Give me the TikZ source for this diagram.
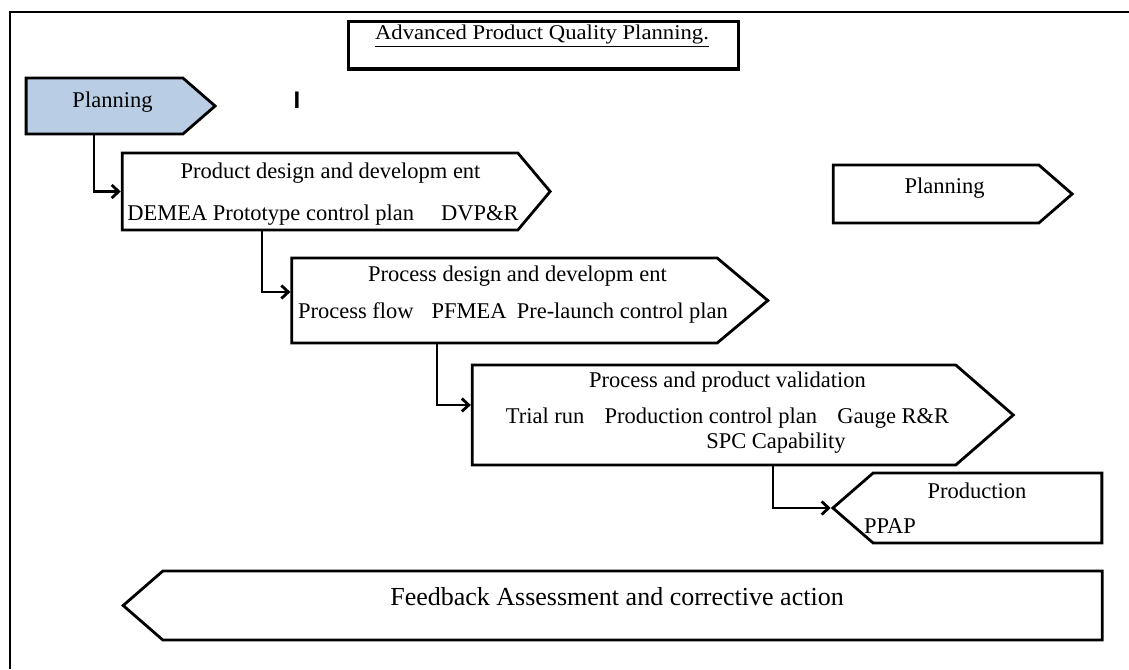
\documentclass[tikz,border=0pt]{standalone}
\usepackage{fontspec}
\setmainfont{Liberation Serif}
\newfontfamily\marksans{Liberation Sans}
\usepackage{xcolor}
\usepackage{tikz}
\usetikzlibrary{arrows.meta, positioning, shapes.symbols}

\definecolor{planblue}{RGB}{185,205,229}

\begin{document}
\begin{tikzpicture}[x=1pt, y=-1pt, >={Straight Barb[length=7pt, width=13pt]}]
		\tikzstyle{stage} = [draw=black, line width=2.8pt, signal, signal to=east, inner sep=0pt]
		\tikzstyle{back} = [stage, signal to=west]
		\tikzstyle{txt} = [anchor=base, inner sep=0pt, font=\fontsize{22.5}{27}\selectfont]
		\tikzstyle{link} = [->, line width=2.8pt]
		
		\useasboundingbox (0,0) rectangle (1129,669);
		\draw[line width=2.4pt] (1129,12) -- (10,12) -- (10,669);
		
		% title
		\node[draw=black, line width=3pt, minimum width=390pt, minimum height=47pt] at (543,45.5) (tbox) {};
		\node[txt] at (542,40) (title) {\scalebox{1.08}[1]{\fontsize{21}{25}\selectfont\underline{Advanced Product Quality Planning.}}};
		\node[anchor=base, inner sep=0pt, font=\marksans\bfseries\fontsize{24}{28}\selectfont] at (297,108) (mark) {I};
		
		% stages
		\node[stage, fill=planblue, minimum width=189pt, minimum height=56pt, signal pointer angle=82] at (104.5,106) (plan) {};
		\node[stage, minimum width=428pt, minimum height=77pt, signal pointer angle=100] at (320,191.5) (pd) {};
		\node[stage, minimum width=476pt, minimum height=85pt, signal pointer angle=80] at (504.5,300.5) (dd) {};
		\node[stage, minimum width=541pt, minimum height=100pt, signal pointer angle=82] at (714,415) (val) {};
		\node[back, minimum width=269pt, minimum height=70pt, signal pointer angle=82] at (987.5,508) (prod) {};
		\node[back, minimum width=979pt, minimum height=69pt, signal pointer angle=82] at (632.5,605.5) (fb) {};
		\node[stage, minimum width=239pt, minimum height=58pt, signal pointer angle=82] at (936,194) (plan2) {};
		
		% texts
		\node[txt] at (112.5,107) (plan-t) {Planning};
		\node[txt] at (330.5,178) (pd-t1) {Product design and developm ent};
		\node[txt] at (323,220) (pd-t2) {DEMEA Prototype control plan\hspace{1.2em}DVP\&R};
		\node[txt] at (517.5,281) (dd-t1) {Process design and developm ent};
		\node[txt] at (513,318) (dd-t2) {Process flow\hspace{0.8em}PFMEA\hspace{0.45em}Pre-launch control plan};
		\node[txt] at (727.5,387) (val-t1) {Process and product validation};
		\node[txt] at (727.5,423) (val-t2) {Trial run\hspace{0.9em}Production control plan\hspace{0.9em}Gauge R\&R};
		\node[txt] at (776,448) (val-t3) {SPC Capability};
		\node[txt] at (977,498) (prod-t1) {Production};
		\node[txt] at (890,533) (prod-t2) {PPAP};
		\node[txt, font=\fontsize{26}{31}\selectfont] at (617,605) (fb-t) {Feedback Assessment and corrective action};
		\node[txt] at (944.5,193) (plan2-t) {Planning};
		
		% links
		\draw[link] ([xshift=-10.5pt]plan.south) |- (pd.west);
		\draw[link] ([xshift=-58pt]pd.south) |- ([yshift=8.5pt]dd.west);
		\draw[link] ([xshift=-67.5pt]dd.south) |- ([yshift=10pt]val.west);
		\draw[link] ([xshift=59pt]val.south) |- (prod.west);
\end{tikzpicture}
\end{document}
